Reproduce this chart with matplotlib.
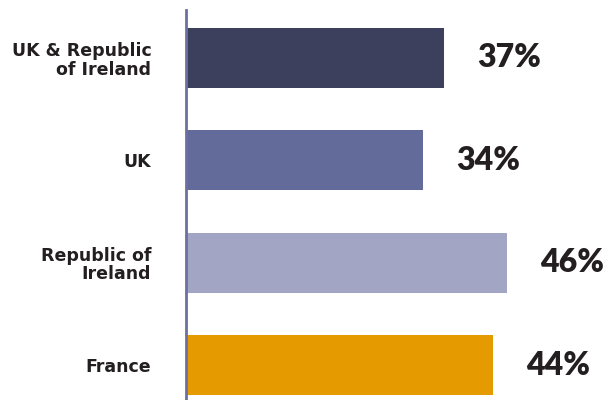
import matplotlib.pyplot as plt

# Share of respondents by region
regions = ['UK & Republic\nof Ireland', 'UK', 'Republic of\nIreland', 'France']
shares = [37, 34, 46, 44]
bar_colors = ['#3d405c', '#636b9b', '#a2a6c4', '#e59a00']

plt.rcParams['font.family'] = ['Lato', 'DejaVu Sans']

fig = plt.figure(figsize=(6.08, 4.0), dpi=100)
ax = fig.add_axes([186 / 608, 0.0, 1 - 186 / 608, 0.975])

pos = list(range(len(regions)))
ax.barh(pos, shares, height=0.585, color=bar_colors)

# value labels to the right of each bar
for p, v in zip(pos, shares):
    ax.annotate(f'{v}%', xy=(v, p), xytext=(24, 0), textcoords='offset points',
                ha='left', va='center', fontsize=23, fontweight='heavy',
                color='#231f20')

ax.set_xlim(0, 60.5)
ax.set_ylim(3.342, -0.469)
ax.set_yticks(pos)
ax.set_yticklabels(regions, fontsize=12.5, fontweight='bold', color='#231f20',
                   linespacing=1.05, family='DejaVu Sans')
ax.tick_params(axis='y', length=0, pad=25)
ax.set_xticks([])

for side in ['top', 'right', 'bottom']:
    ax.spines[side].set_visible(False)
ax.spines['left'].set_color('#6b70a0')
ax.spines['left'].set_linewidth(2)

fig.savefig('out.png', dpi=100)
